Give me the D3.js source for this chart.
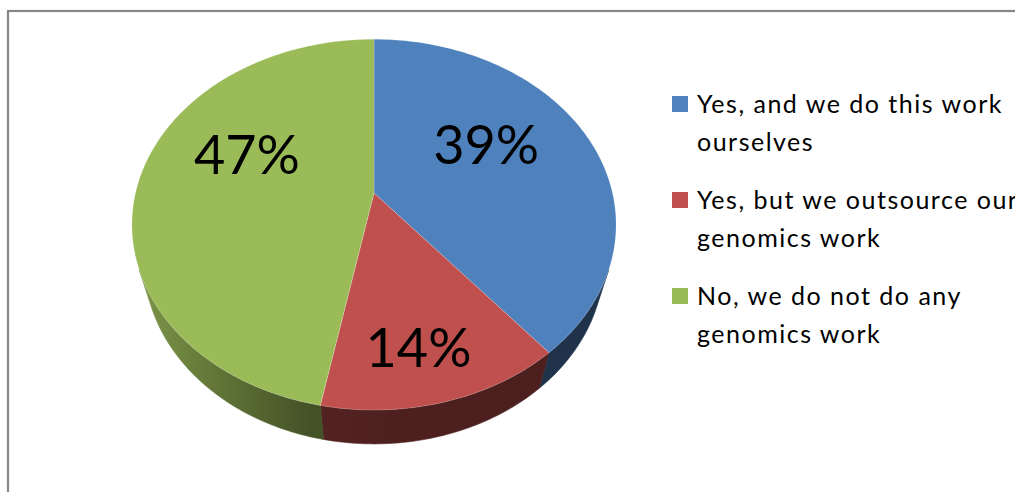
<!DOCTYPE html>
<html>
<head>
<meta charset="utf-8">
<script src="https://cdn.jsdelivr.net/npm/d3@7"></script>
<style>
  html, body { margin: 0; padding: 0; background: #fff; }
  svg { display: block; }
</style>
</head>
<body>
<svg id="chart" width="1015" height="492"></svg>
<script>
// Survey answers and their shares (percent)
const categories = [
  "Yes, and we do this work ourselves",
  "Yes, but we outsource our genomics work",
  "No, we do not do any genomics work"
];
const legendLines = [
  ["Yes, and we do this work", "ourselves"],
  ["Yes, but we outsource our", "genomics work"],
  ["No, we do not do any", "genomics work"]
];
const values = [39, 14, 47];
const colors = ["#4F81BD", "#C0504D", "#9BBB59"];

// ---- layout ----
const W = 1015, H = 492;
const cx = 374, cy = 193;          // pie centre on screen
const tilt = 49 * Math.PI / 180;   // camera elevation
const sinT = Math.sin(tilt), cosT = Math.cos(tilt);
const camDist = 3.846;             // camera distance in radii
const focal = 917.3;               // projection scale in px
const thickness = 0.262;           // disc height in radii
const labelRadius = 0.6;
const labelNudge = [[-18, -13], [5, 38], [14, -28]];

const svg = d3.select("#chart");

// perspective projection of a point on the disc
// theta: clockwise angle from the far side, r: radius (0..1), h: height (0 top, -thickness bottom)
function project(theta, r, h) {
  const X = r * Math.sin(theta);
  const Z = -r * Math.cos(theta);
  const depth = camDist - Z * cosT - h * sinT;
  return [cx + focal * X / depth, cy + focal * (Z * sinT - h * cosT) / depth];
}

function arcPoints(a0, a1, r, h) {
  const n = Math.max(2, Math.ceil(Math.abs(a1 - a0) / (Math.PI / 180)));
  return d3.range(n + 1).map(i => project(a0 + (a1 - a0) * i / n, r, h));
}

const line = d3.line().curve(d3.curveLinear);

const arcs = d3.pie().sort(null).startAngle(0).endAngle(2 * Math.PI)(values);

// side visible where the outer wall faces the camera
const k = 1 / (camDist * cosT);
const visMin = Math.acos(-k), visMax = 2 * Math.PI - Math.acos(-k);

// side shading by screen x (light on the left, dark towards the front/right)
const defs = svg.append("defs");
const shadeStops = [[130, 0.82], [220, 0.62], [310, 0.44], [400, 0.40], [620, 0.39]];
colors.forEach((c, i) => {
  const g = defs.append("linearGradient")
    .attr("id", "side" + i)
    .attr("gradientUnits", "userSpaceOnUse")
    .attr("x1", 130).attr("x2", 620).attr("y1", 0).attr("y2", 0);
  const base = d3.rgb(c);
  shadeStops.forEach(([x, f]) => {
    g.append("stop")
      .attr("offset", (x - 130) / 490)
      .attr("stop-color", d3.rgb(base.r * f, base.g * f, base.b * f).formatHex());
  });
});

// chart frame
svg.append("rect")
  .attr("x", 8).attr("y", 11)
  .attr("width", W + 40).attr("height", H + 40)
  .attr("fill", "none")
  .attr("stroke", "#878787")
  .attr("stroke-width", 2.2);

const pieG = svg.append("g");

// outer walls
arcs.forEach((a, i) => {
  const s = Math.max(a.startAngle, visMin);
  const e = Math.min(a.endAngle, visMax);
  if (e <= s) return;
  const top = arcPoints(s, e, 1, 0);
  const bottom = arcPoints(e, s, 1, -thickness);
  pieG.append("path")
    .attr("d", line(top.concat(bottom)) + "Z")
    .attr("fill", `url(#side${i})`)
    .attr("stroke", `url(#side${i})`)
    .attr("stroke-width", 0.6);
});

// top faces
arcs.forEach((a, i) => {
  const pts = [project(0, 0, 0)].concat(arcPoints(a.startAngle, a.endAngle, 1, 0));
  pieG.append("path")
    .attr("d", line(pts) + "Z")
    .attr("fill", colors[i])
    .attr("stroke", "rgba(255,255,255,0.25)")
    .attr("stroke-width", 0.8);
});

// percentage labels
arcs.forEach((a, i) => {
  const mid = (a.startAngle + a.endAngle) / 2;
  const p = project(mid, labelRadius, 0);
  svg.append("text")
    .attr("x", p[0] + labelNudge[i][0])
    .attr("y", p[1] + labelNudge[i][1])
    .attr("dy", "0.36em")
    .attr("text-anchor", "middle")
    .attr("font-family", "Lato, 'Open Sans', sans-serif")
    .attr("font-size", 54)
    .attr("fill", "#000")
    .text(values[i] + "%");
});

// legend
const legend = svg.append("g").attr("transform", "translate(672,96)");
const itemGap = 96, lineGap = 38;
legendLines.forEach((lines, i) => {
  const g = legend.append("g").attr("transform", `translate(0,${i * itemGap})`);
  g.append("rect").attr("width", 16).attr("height", 16).attr("fill", colors[i]);
  const t = g.append("text")
    .attr("font-family", "Lato, 'Open Sans', sans-serif")
    .attr("font-size", 25)
    .attr("letter-spacing", 1.5)
    .attr("fill", "#000");
  lines.forEach((l, j) => {
    t.append("tspan").attr("x", 25).attr("y", 17 + j * lineGap).text(l);
  });
  g.append("title").text(categories[i]);
});
</script>
</body>
</html>
